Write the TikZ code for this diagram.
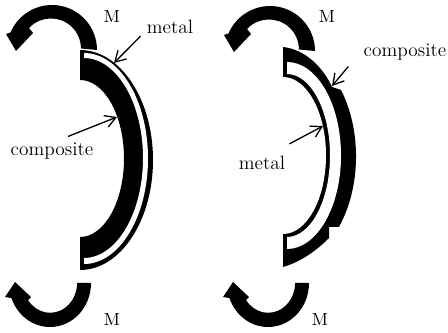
\documentclass[tikz,border=0pt]{standalone}
\usetikzlibrary{arrows.meta,calc}
\tikzset{
  lbl/.style={font=\fontsize{11}{13}\selectfont, inner sep=0pt},
  momentlbl/.style={font=\fontsize{10}{12}\selectfont, inner sep=0pt},
  pointer/.style={-{Straight Barb[length=6pt,width=7pt]}, line width=0.75pt, black},
}
\begin{document}
\begin{tikzpicture}[x=0.02cm, y=0.02cm]
    \useasboundingbox (0,0) rectangle (448,332);
    % moment arrows, the right pair is the left pair moved over
    \foreach \sx/\sy in {0/0, 218/-1} {
      \fill[black, shift={(\sx,\sy)}] (97,282) arc[start angle=0, end angle=157, radius=45]
        -- (6,298) -- (16,281) -- (33,299) -- (29,304)
        arc[start angle=137, end angle=0, radius=30] -- cycle;
    }
    \foreach \sx in {0, 218} {
      \fill[black, shift={(\sx,0)}] (91,49) arc[start angle=0, end angle=-160, x radius=41, y radius=44]
        -- (5,35) -- (15,50) -- (31,35) -- (28,32)
        arc[start angle=-145, end angle=0, x radius=27, y radius=30] -- cycle;
    }
    % left beam, thick composite inside
    \fill[black] (80,282) arc[start angle=90, end angle=-90, x radius=73, y radius=110]
      -- (80,95) arc[start angle=-90, end angle=90, x radius=44, y radius=78.5] -- cycle;
    \fill[white] (84,279) arc[start angle=90, end angle=-90, x radius=64, y radius=105.5]
      -- (84,74) arc[start angle=-90, end angle=90, x radius=59, y radius=100] -- cycle;
    % right beam, thick composite outside with stepped ends
    \fill[black] (283,285) .. controls (303,283) and (322,267) .. (332,245)
      -- (341,242) arc[start angle=37.4, end angle=-40, x radius=73, y radius=109.5]
      -- (329,105) -- (329,94) .. controls (315,80) and (300,70) .. (283,65) -- cycle;
    \fill[white] (287,270) arc[start angle=90, end angle=-90, x radius=54, y radius=93.5]
      -- (287,95) arc[start angle=-90, end angle=90, x radius=43, y radius=81.5] -- cycle;
    \fill[white] (283,255)
      arc[start angle=90, end angle=-90, x radius=43, y radius=78.5] -- cycle;
    % labels
    \node[momentlbl] (mTopA) at (112,316) {M};
    \node[momentlbl] (mBotA) at (112,13) {M};
    \node[momentlbl] (mTopB) at (327,316) {M};
    \node[momentlbl] (mBotB) at (320,13) {M};
    \node[lbl] (metalA) at (170,305) {metal};
    \node[lbl] (compA) at (52,181) {composite};
    \node[lbl] (compB) at (405,280) {composite};
    \node[lbl] (metalB) at (262,169) {metal};
    % pointers
    \coordinate (metalTipA) at (114,269);
    \coordinate (compTipA) at (117,215);
    \coordinate (compTipB) at (332,246);
    \coordinate (metalTipB) at (323,206);
    \draw[pointer] ([shift={(-6,-2)}]metalA.south west) -- (metalTipA);
    \draw[pointer] ([shift={(16,6)}]compA.north) -- (compTipA);
    \draw[pointer] ([shift={(-15,-6)}]compB.south west) -- (compTipB);
    \draw[pointer] ([shift={(4,12)}]metalB.north east) -- (metalTipB);
\end{tikzpicture}
\end{document}
